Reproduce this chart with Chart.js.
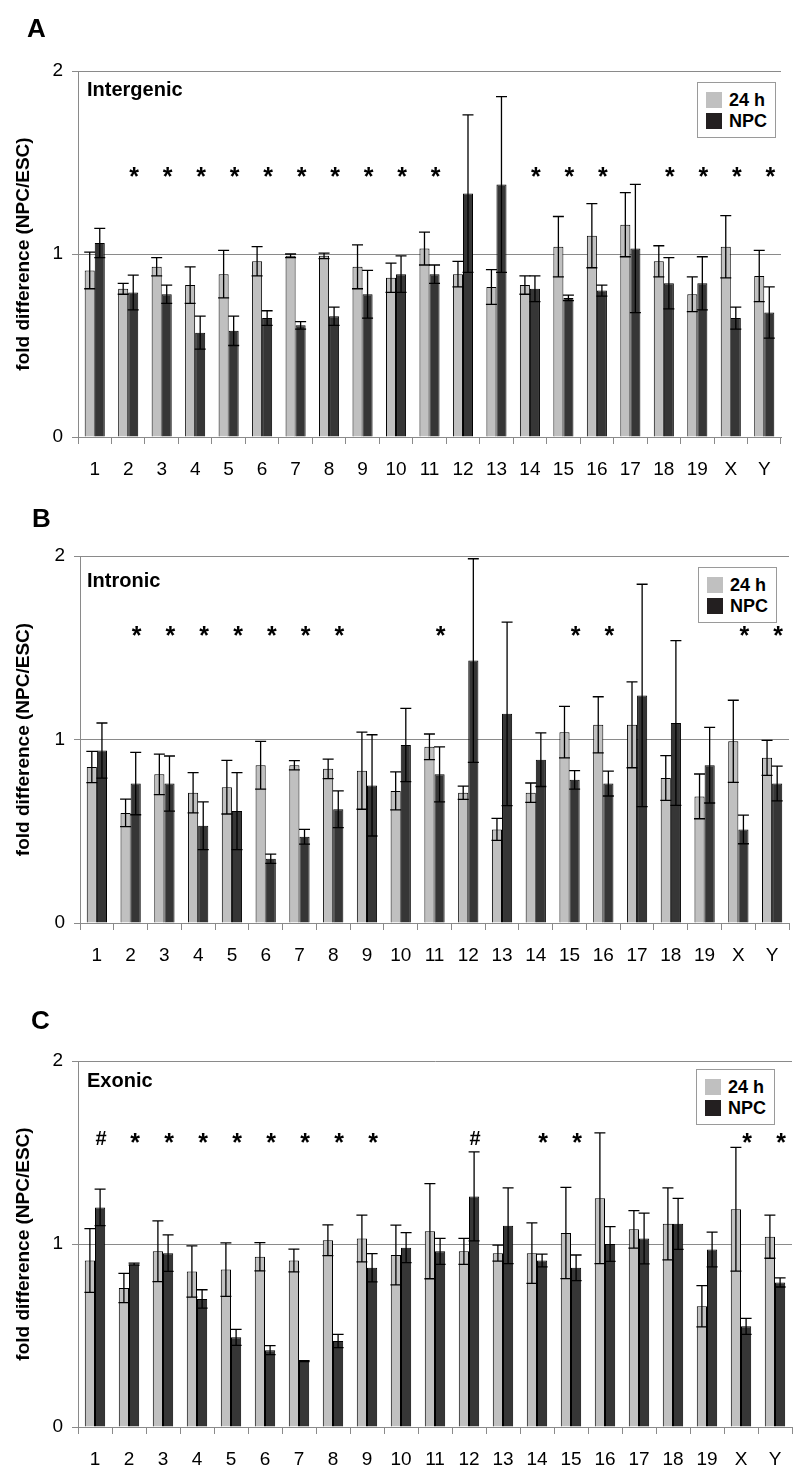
<!DOCTYPE html>
<html>
<head>
<meta charset="utf-8">
<script src="https://cdn.jsdelivr.net/npm/chart.js@4.4.1/dist/chart.umd.min.js"></script>
<style>
  body { margin: 0; background: #fff; font-family: Arial, "Liberation Sans", sans-serif; }
  #page { position: relative; width: 800px; height: 1483px; overflow: hidden; }
  canvas { position: absolute; left: 0; }
  .letter { position: absolute; font-size: 26px; font-weight: bold; line-height: 1; color: #000; }
  .ptitle { position: absolute; font-size: 20px; font-weight: bold; line-height: 1; color: #000; }
  .legend { position: absolute; width: 77px; height: 54px; border: 1px solid #9a9a9a; background: #fff; box-sizing: content-box; }
  .legend .row { position: absolute; left: 8px; height: 16px; font-size: 18px; font-weight: bold; line-height: 16px; color: #000; white-space: nowrap; }
  .legend .sw { display: inline-block; width: 16px; height: 16px; vertical-align: top; margin-right: 7px; }
</style>
</head>
<body>
<div id="page">
  <canvas id="chartA" width="800" height="490" style="top:0px"></canvas>
  <canvas id="chartB" width="800" height="500" style="top:490px"></canvas>
  <canvas id="chartC" width="800" height="493" style="top:990px"></canvas>

  <div class="letter" style="left:27px; top:15px">A</div>
  <div class="letter" style="left:32px; top:505px">B</div>
  <div class="letter" style="left:31px; top:1007px">C</div>

  <div class="ptitle" style="left:87px; top:79px">Intergenic</div>
  <div class="ptitle" style="left:87px; top:570px">Intronic</div>
  <div class="ptitle" style="left:87px; top:1070px">Exonic</div>

  <div class="legend" style="left:697px; top:82px">
    <div class="row" style="top:9px"><span class="sw" style="background:#c0c0c0"></span>24 h</div>
    <div class="row" style="top:30px"><span class="sw" style="background:#231f20"></span>NPC</div>
  </div>
  <div class="legend" style="left:698px; top:567px">
    <div class="row" style="top:9px"><span class="sw" style="background:#c0c0c0"></span>24 h</div>
    <div class="row" style="top:30px"><span class="sw" style="background:#231f20"></span>NPC</div>
  </div>
  <div class="legend" style="left:696px; top:1069px">
    <div class="row" style="top:9px"><span class="sw" style="background:#c0c0c0"></span>24 h</div>
    <div class="row" style="top:30px"><span class="sw" style="background:#231f20"></span>NPC</div>
  </div>
</div>

<script>
// chromosomes on the x axis
const chromosomes = ['1', '2', '3', '4', '5', '6', '7', '8', '9', '10', '11', '12', '13', '14', '15', '16', '17', '18', '19', 'X', 'Y'];
const yTicks = [0, 1, 2];

// A - intergenic
const intergenic24h    = [0.91, 0.81, 0.93, 0.83, 0.89, 0.96, 0.99, 0.99, 0.93, 0.87, 1.03, 0.89, 0.82, 0.83, 1.04, 1.10, 1.16, 0.96, 0.78, 1.04, 0.88];
const intergenic24hErr = [0.10, 0.03, 0.05, 0.10, 0.13, 0.08, 0.01, 0.015, 0.12, 0.08, 0.09, 0.07, 0.095, 0.05, 0.165, 0.175, 0.175, 0.085, 0.095, 0.17, 0.14];
const intergenicNpc    = [1.06, 0.79, 0.78, 0.57, 0.58, 0.65, 0.61, 0.66, 0.78, 0.89, 0.89, 1.33, 1.38, 0.81, 0.76, 0.80, 1.03, 0.84, 0.84, 0.65, 0.68];
const intergenicNpcErr = [0.08, 0.095, 0.05, 0.09, 0.08, 0.04, 0.02, 0.05, 0.13, 0.10, 0.05, 0.43, 0.48, 0.07, 0.015, 0.03, 0.35, 0.14, 0.145, 0.06, 0.14];
const intergenicMarks  = ['', '*', '*', '*', '*', '*', '*', '*', '*', '*', '*', '', '', '*', '*', '*', '', '*', '*', '*', '*'];

// B - intronic
const intronic24h    = [0.85, 0.60, 0.81, 0.71, 0.74, 0.86, 0.86, 0.84, 0.83, 0.72, 0.96, 0.71, 0.51, 0.71, 1.04, 1.08, 1.08, 0.79, 0.69, 0.99, 0.90];
const intronic24hErr = [0.085, 0.075, 0.11, 0.11, 0.146, 0.13, 0.025, 0.053, 0.21, 0.104, 0.07, 0.036, 0.06, 0.053, 0.14, 0.153, 0.234, 0.122, 0.122, 0.224, 0.095];
const intronicNpc    = [0.94, 0.76, 0.76, 0.53, 0.61, 0.35, 0.47, 0.62, 0.75, 0.97, 0.81, 1.43, 1.14, 0.89, 0.78, 0.76, 1.24, 1.09, 0.86, 0.51, 0.76];
const intronicNpcErr = [0.15, 0.17, 0.15, 0.13, 0.21, 0.025, 0.04, 0.10, 0.276, 0.20, 0.15, 0.555, 0.50, 0.146, 0.05, 0.068, 0.606, 0.449, 0.206, 0.078, 0.095];
const intronicMarks  = ['', '*', '*', '*', '*', '*', '*', '*', '', '', '*', '', '', '', '*', '*', '', '', '', '*', '*'];

// C - exonic
const exonic24h    = [0.91, 0.76, 0.96, 0.85, 0.86, 0.93, 0.91, 1.02, 1.03, 0.94, 1.07, 0.96, 0.95, 0.95, 1.06, 1.25, 1.08, 1.11, 0.66, 1.19, 1.04];
const exonic24hErr = [0.174, 0.08, 0.166, 0.14, 0.146, 0.077, 0.062, 0.084, 0.128, 0.163, 0.26, 0.071, 0.044, 0.165, 0.249, 0.357, 0.102, 0.197, 0.113, 0.338, 0.118];
const exonicNpc    = [1.20, 0.89, 0.95, 0.70, 0.49, 0.42, 0.36, 0.47, 0.87, 0.98, 0.96, 1.26, 1.10, 0.91, 0.87, 1.00, 1.03, 1.11, 0.97, 0.55, 0.79];
const exonicNpcErr = [0.10, 0.005, 0.10, 0.05, 0.044, 0.025, 0.003, 0.036, 0.077, 0.082, 0.071, 0.243, 0.207, 0.035, 0.07, 0.095, 0.139, 0.139, 0.095, 0.044, 0.025];
const exonicMarks  = ['#', '*', '*', '*', '*', '*', '*', '*', '*', '', '', '#', '', '*', '*', '', '', '', '', '*', '*'];

const FONT = 'Arial, "Liberation Sans", sans-serif';
const GRID = '#8a8a8a';

// error bars (up and down) from dataset.errors
const errorBarPlugin = {
    id: 'errorBars',
    afterDatasetsDraw(chart) {
        const ctx = chart.ctx;
        const y = chart.scales.y;
        ctx.save();
        ctx.strokeStyle = '#000';
        ctx.lineWidth = 1.3;
        chart.data.datasets.forEach((ds, i) => {
            const meta = chart.getDatasetMeta(i);
            meta.data.forEach((bar, j) => {
                const e = ds.errors[j];
                const v = ds.data[j];
                const top = y.getPixelForValue(v + e);
                const bot = y.getPixelForValue(v - e);
                const x = bar.x;
                const cap = 5.5;
                ctx.beginPath();
                ctx.moveTo(x, top); ctx.lineTo(x, bot);
                ctx.moveTo(x - cap, top); ctx.lineTo(x + cap, top);
                ctx.moveTo(x - cap, bot); ctx.lineTo(x + cap, bot);
                ctx.stroke();
            });
        });
        ctx.restore();
    }
};

// significance marks, placed over the NPC bar
const marksPlugin = {
    id: 'sigMarks',
    afterDatasetsDraw(chart, args, opts) {
        const ctx = chart.ctx;
        const meta = chart.getDatasetMeta(1);
        const yc = chart.scales.y.getPixelForValue(opts.level);
        ctx.save();
        ctx.fillStyle = '#000';
        ctx.textAlign = 'center';
        ctx.textBaseline = 'alphabetic';
        opts.marks.forEach((m, j) => {
            if (!m) return;
            ctx.font = (m === '#' ? 'bold 20px ' : 'bold 25px ') + FONT;
            const mt = ctx.measureText(m);
            const base = yc + (mt.actualBoundingBoxAscent - mt.actualBoundingBoxDescent) / 2;
            ctx.fillText(m, meta.data[j].x + 1, base);
        });
        ctx.restore();
    }
};

function makePanel(id, p) {
    const ctx = document.getElementById(id).getContext('2d');
    return new Chart(ctx, {
        type: 'bar',
        data: {
            labels: chromosomes,
            datasets: [
                {
                    label: '24 h',
                    data: p.a,
                    errors: p.aErr,
                    backgroundColor: '#c0c0c0',
                    borderColor: '#000',
                    borderWidth: 1
                },
                {
                    label: 'NPC',
                    data: p.b,
                    errors: p.bErr,
                    backgroundColor: '#363636',
                    borderColor: '#000',
                    borderWidth: 1
                }
            ]
        },
        options: {
            responsive: false,
            animation: false,
            layout: { padding: { top: p.top, right: p.right, left: 0, bottom: 0 } },
            datasets: { bar: { categoryPercentage: 0.6, barPercentage: 1.0 } },
            plugins: {
                legend: { display: false },
                tooltip: { enabled: false },
                sigMarks: { marks: p.marks, level: p.level }
            },
            scales: {
                x: {
                    grid: { offset: true, drawOnChartArea: false, drawTicks: true, tickLength: 7, color: GRID },
                    border: { color: GRID, width: 1 },
                    ticks: { color: '#000', font: { family: FONT, size: 19 }, padding: 14, autoSkip: false, maxRotation: 0 },
                    afterFit(scale) { scale.height = p.xh; }
                },
                y: {
                    min: 0,
                    max: 2,
                    afterBuildTicks(scale) { scale.ticks = yTicks.map(v => ({ value: v })); },
                    grid: { color: GRID, tickLength: 6 },
                    border: { color: GRID, width: 1 },
                    ticks: { color: '#000', font: { family: FONT, size: 19 }, padding: 9 },
                    title: {
                        display: true,
                        text: 'fold difference (NPC/ESC)',
                        color: '#000',
                        font: { family: FONT, size: 19, weight: 'bold' },
                        padding: { top: 12, bottom: 0 }
                    },
                    afterFit(scale) { scale.width = p.yw; }
                }
            }
        },
        plugins: [errorBarPlugin, marksPlugin]
    });
}

makePanel('chartA', { a: intergenic24h, aErr: intergenic24hErr, b: intergenicNpc, bErr: intergenicNpcErr, marks: intergenicMarks, level: 1.45, top: 71, right: 19, yw: 78, xh: 53 });
makePanel('chartB', { a: intronic24h, aErr: intronic24hErr, b: intronicNpc, bErr: intronicNpcErr, marks: intronicMarks, level: 1.59, top: 66, right: 11, yw: 80, xh: 67 });
makePanel('chartC', { a: exonic24h, aErr: exonic24hErr, b: exonicNpc, bErr: exonicNpcErr, marks: exonicMarks, level: 1.58, top: 71, right: 8, yw: 78, xh: 56 });
</script>
</body>
</html>
